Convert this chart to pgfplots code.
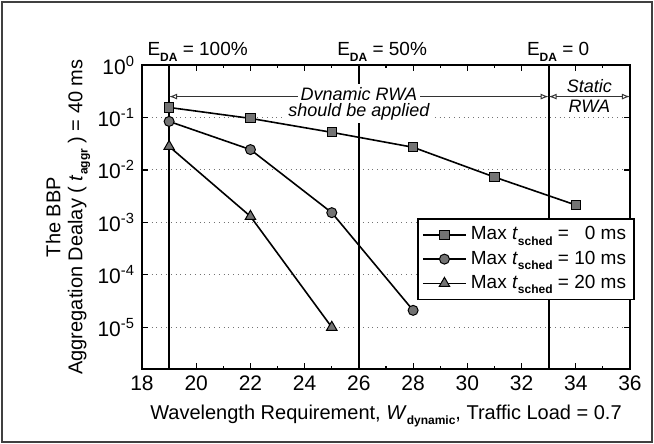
\documentclass[border=0pt]{standalone}
\usepackage{pgfplots}
\pgfplotsset{compat=1.18}
\usepackage{fontspec}
\setmainfont{Liberation Sans}
\usetikzlibrary{arrows.meta}
\newcommand\sub[1]{\raisebox{-0.5ex}{\fontsize{6}{6}\selectfont\bfseries #1}}
\begin{document}
\begin{tikzpicture}
\useasboundingbox (-71pt,-37.5pt) rectangle (256pt,184.5pt);
\draw[black!75, line width=1pt] (-70pt,-36.5pt) rectangle (255pt,183.5pt);
\begin{axis}[
  at={(0pt,0pt)}, anchor=south west,
  scale only axis, width=244pt, height=152pt,
  ymode=log, xmin=18, xmax=36, ymin=1.6e-6, ymax=1,
  clip=false,
  xtick={18,20,...,36}, minor xtick={19,21,...,35},
  ytick={1,1e-1,1e-2,1e-3,1e-4,1e-5},
  yticklabels={10\textsuperscript{0},10\textsuperscript{-1},10\textsuperscript{-2},10\textsuperscript{-3},10\textsuperscript{-4},10\textsuperscript{-5}},
  ymajorgrids, major grid style={dotted, black!55, line width=0.5pt},
  axis line style={line width=0.8pt},
  tick style={black, line width=0.6pt},
  major tick length=3pt, minor tick length=1.5pt,
  tick label style={font=\fontsize{10.5}{12}\selectfont},
  /pgf/number format/assume math mode=true,
  xlabel={Wavelength Requirement, \textit{W}\sub{dynamic}, Traffic Load = 0.7},
  xlabel style={font=\fontsize{10}{12}\selectfont},
  legend style={at={(0.564,0.497)}, anchor=north west, draw=black, line width=0.8pt,
    font=\fontsize{9.5}{10}\selectfont, inner xsep=2pt, inner ysep=2pt, row sep=0pt},
  legend cell align=left,
  legend image code/.code={\draw[mark repeat=2,mark phase=2] plot coordinates {(0cm,0cm) (0.38cm,0cm) (0.76cm,0cm)};},
]
\draw[black, line width=1pt] (axis cs:19,1.6e-6) -- (axis cs:19,1);
\draw[black, line width=1pt] (axis cs:26,1.6e-6) -- (axis cs:26,1);
\draw[black, line width=1pt] (axis cs:33,1.6e-6) -- (axis cs:33,1);
\draw[{Latex[open,length=4pt,width=3pt]}-{Latex[open,length=4pt,width=3pt]}, black!80, line width=0.5pt] (axis cs:19,0.25) -- (axis cs:33,0.25);
\draw[{Latex[open,length=4pt,width=3pt]}-{Latex[open,length=4pt,width=3pt]}, black!80, line width=0.5pt] (axis cs:33,0.25) -- (axis cs:36,0.25);
\node[fill=white, inner sep=1.5pt, font=\fontsize{9}{10}\selectfont\itshape] at (axis cs:26,0.258) {Dynamic RWA};
\node[fill=white, inner sep=1.5pt, font=\fontsize{9}{10}\selectfont\itshape] at (axis cs:26,0.13) {should be applied};
\node[font=\fontsize{9}{10}\selectfont\itshape] at (axis cs:34.5,0.405) {Static};
\node[font=\fontsize{9}{10}\selectfont\itshape] at (axis cs:34.5,0.165) {RWA};
\node[anchor=base west, font=\fontsize{9.5}{11}\selectfont, inner sep=0pt, xshift=-11pt, yshift=4.5pt] at (axis cs:19,1) {E\sub{DA} = 100\%};
\node[anchor=base west, font=\fontsize{9.5}{11}\selectfont, inner sep=0pt, xshift=-11pt, yshift=4.5pt] at (axis cs:26,1) {E\sub{DA} = 50\%};
\node[anchor=base west, font=\fontsize{9.5}{11}\selectfont, inner sep=0pt, xshift=-11pt, yshift=4.5pt] at (axis cs:33,1) {E\sub{DA} = 0};
\addplot[black, line width=0.8pt, mark=square*, mark size=2.3pt, mark options={fill=black!55, draw=black, line width=0.5pt}]
  coordinates {(19,0.155)(22,0.096)(25,0.052)(28,0.027)(31,0.0073)(34,0.00214)};
\addlegendentry{Max \textit{t}\sub{sched} = \phantom{1}0 ms}
\addplot[black, line width=0.8pt, mark=*, mark size=2.5pt, mark options={fill=black!55, draw=black, line width=0.5pt}]
  coordinates {(19,0.084)(22,0.0244)(25,0.00153)(28,2.1e-5)};
\addlegendentry{Max \textit{t}\sub{sched} = 10 ms}
\addplot[black, line width=0.8pt, mark=triangle*, mark size=3pt, mark options={fill=black!55, draw=black, line width=0.5pt}]
  coordinates {(19,0.028)(22,0.0013)(25,1.0e-5)};
\addlegendentry{Max \textit{t}\sub{sched} = 20 ms}
\end{axis}
\node[rotate=90, align=center, font=\fontsize{10}{11}\selectfont] at (-37pt,76pt) {The BBP\\Aggregation Dealay ( \textit{t}\sub{aggr} ) = 40 ms};
\end{tikzpicture}
\end{document}
